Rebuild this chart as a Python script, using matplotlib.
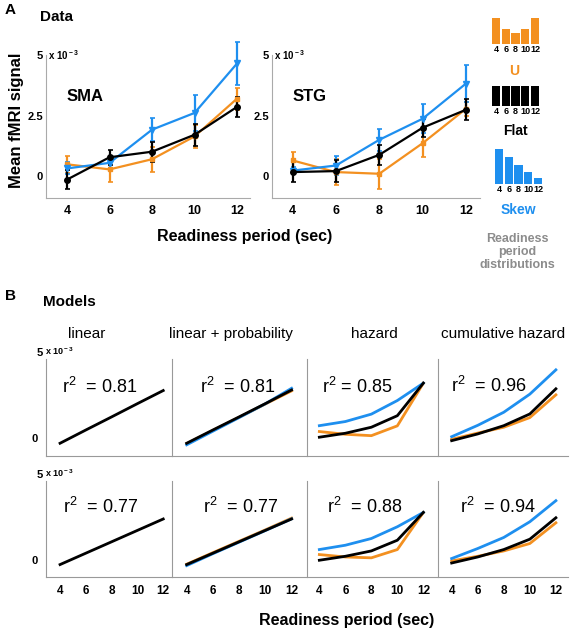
import matplotlib
matplotlib.use('Agg')
import matplotlib.pyplot as plt
import numpy as np

plt.rcParams['font.family'] = ['Liberation Sans', 'DejaVu Sans']
plt.rcParams['mathtext.fontset'] = 'custom'
plt.rcParams['mathtext.rm'] = 'Liberation Sans'
plt.rcParams['mathtext.it'] = 'Liberation Sans:italic'
plt.rcParams['mathtext.bf'] = 'Liberation Sans:bold'

# colours
orange = '#F39020'
blue = '#1E8FEF'
black = '#000000'
gray = '#aaaaaa'

# readiness periods (sec)
periods = [4, 6, 8, 10, 12]

# ---- panel A : data (x 10^-3) ----
sma_u = [0.49, 0.28, 0.70, 1.64, 3.20]
sma_u_err = [0.35, 0.52, 0.52, 0.49, 0.45]
sma_flat = [-0.14, 0.78, 1.01, 1.71, 2.86]
sma_flat_err = [0.38, 0.31, 0.42, 0.45, 0.40]
sma_skew = [0.32, 0.55, 1.92, 2.61, 4.65]
sma_skew_err = [0.25, 0.20, 0.47, 0.73, 0.90]

stg_u = [0.65, 0.17, 0.10, 1.36, 2.78]
stg_u_err = [0.34, 0.52, 0.62, 0.58, 0.28]
stg_flat = [0.17, 0.21, 0.88, 2.00, 2.74]
stg_flat_err = [0.41, 0.45, 0.41, 0.38, 0.43]
stg_skew = [0.23, 0.44, 1.50, 2.37, 3.82]
stg_skew_err = [0.15, 0.38, 0.45, 0.60, 0.76]

# readiness period distributions
dist_u = [1.0, 0.56, 0.41, 0.56, 1.0]
dist_flat = [1.0, 1.0, 1.0, 1.0, 1.0]
dist_skew = [1.0, 0.77, 0.53, 0.33, 0.17]

# ---- panel B : models (x 10^-3) ----
model_names = ['linear', 'linear + probability', 'hazard', 'cumulative hazard']
# row 1 (SMA fits): [u, flat, skew] ; None = not drawn
row1 = [
    [None, [-0.29, 0.48, 1.24, 2.01, 2.77], None],
    [[-0.31, 0.46, 1.22, 1.99, 2.75], [-0.29, 0.48, 1.24, 2.01, 2.80], [-0.38, 0.41, 1.20, 2.00, 2.90]],
    [[0.39, 0.23, 0.15, 0.72, 3.20], [0.06, 0.29, 0.64, 1.31, 3.20], [0.73, 0.97, 1.40, 2.19, 3.20]],
    [[-0.06, 0.30, 0.64, 1.20, 2.52], [-0.14, 0.25, 0.73, 1.41, 2.87], [0.09, 0.75, 1.51, 2.56, 3.97]],
]
# row 2 (STG fits)
row2 = [
    [None, [-0.29, 0.37, 1.03, 1.69, 2.35], None],
    [[-0.27, 0.40, 1.06, 1.72, 2.40], [-0.29, 0.37, 1.03, 1.69, 2.35], [-0.35, 0.34, 1.01, 1.68, 2.36]],
    [[0.29, 0.15, 0.10, 0.58, 2.73], [-0.04, 0.19, 0.50, 1.12, 2.73], [0.58, 0.83, 1.22, 1.90, 2.73]],
    [[-0.08, 0.19, 0.50, 0.93, 2.13], [-0.20, 0.15, 0.58, 1.18, 2.42], [0.06, 0.64, 1.28, 2.19, 3.41]],
]
r2_row1 = ['r$^2$  = 0.81', 'r$^2$  = 0.81', 'r$^2$ = 0.85', 'r$^2$  = 0.96']
r2_row2 = ['r$^2$  = 0.77', 'r$^2$  = 0.77', 'r$^2$  = 0.88', 'r$^2$  = 0.94']

W, H = 572, 630
fig = plt.figure(figsize=(W/100, H/100), dpi=100)


def px_axes(l, t, r, b):
    return fig.add_axes([l/W, 1-b/H, (r-l)/W, (b-t)/H])


def ftext(x, y, s, **kw):
    fig.text(x/W, 1-y/H, s, **kw)


def style(ax, spine_col=gray):
    for s in ['top', 'right']:
        ax.spines[s].set_visible(False)
    for s in ['left', 'bottom']:
        ax.spines[s].set_color(spine_col)
        ax.spines[s].set_linewidth(0.8)
    ax.tick_params(length=0)


# ---------------- panel A ----------------
ftext(5, 10, 'A', fontsize=11, fontweight='bold', va='center')
ftext(40, 17, 'Data', fontsize=11, fontweight='bold', va='center')

def data_panel(ax, u, ue, fl, fle, sk, ske, name, xlim):
    style(ax)
    kw = dict(lw=1.6, capsize=1.8, elinewidth=1.6, capthick=1.2, clip_on=False)
    ax.errorbar(periods, u, yerr=ue, color=orange, marker='s', ms=3.5, **kw)
    ax.errorbar(periods, sk, yerr=ske, color=blue, marker='v', ms=4, **kw)
    ax.errorbar(periods, fl, yerr=fle, color=black, marker='o', ms=4, **kw)
    ax.set_xlim(*xlim)
    ax.set_ylim(-0.9, 5.0)
    ax.set_xticks(periods)
    ax.set_xticklabels([str(p) for p in periods], fontsize=9, fontweight='bold')
    ax.set_yticks([0, 2.5, 5])
    ax.set_yticklabels(['0', '2.5', '5'], fontsize=8, fontweight='bold')
    ax.tick_params(axis='x', pad=5)
    ax.tick_params(axis='y', pad=2)
    ax.text(0.01, 1.0, 'x 10$^{\\bf -3}$', transform=ax.transAxes, fontsize=7,
            fontweight='bold', va='center', ha='left')
    ax.text(0.1, 0.71, name, transform=ax.transAxes, fontsize=12,
            fontweight='bold', va='center')

ax_sma = px_axes(46, 55, 250, 198)
data_panel(ax_sma, sma_u, sma_u_err, sma_flat, sma_flat_err, sma_skew, sma_skew_err,
           'SMA', (3.01, 12.61))
ax_stg = px_axes(272, 55, 480, 198)
data_panel(ax_stg, stg_u, stg_u_err, stg_flat, stg_flat_err, stg_skew, stg_skew_err,
           'STG', (3.05, 12.65))

ftext(17, 120, 'Mean fMRI signal', fontsize=12, fontweight='bold', rotation=90,
      ha='center', va='center')
ftext(245, 237, 'Readiness period (sec)', fontsize=11.5, fontweight='bold',
      ha='center', va='center')

# distributions
def dist_panel(box, vals, col):
    ax = px_axes(*box)
    ax.bar(periods, vals, width=1.65, color=col)
    ax.set_xlim(3.0, 13.0)
    ax.set_ylim(0, 1)
    for s in ax.spines.values():
        s.set_visible(False)
    ax.set_yticks([])
    ax.set_xticks(periods)
    ax.set_xticklabels([str(p) for p in periods], fontsize=6.5, fontweight='bold')
    ax.tick_params(length=0, pad=1)

dist_panel((491, 18, 540, 44), dist_u, orange)
dist_panel((491, 86, 540, 106), dist_flat, black)
dist_panel((494, 149, 543, 184), dist_skew, blue)
ftext(514, 71, 'U', fontsize=10, fontweight='bold', color=orange, ha='center', va='center')
ftext(515, 131, 'Flat', fontsize=10, fontweight='bold', color=black, ha='center', va='center')
ftext(518, 210, 'Skew', fontsize=10, fontweight='bold', color=blue, ha='center', va='center')
ftext(517, 252, 'Readiness\nperiod\ndistributions', fontsize=9, fontweight='bold',
      color='#8c8c8c', ha='center', va='center', linespacing=1.15)

# ---------------- panel B ----------------
ftext(5, 296, 'B', fontsize=11, fontweight='bold', va='center')
ftext(43, 302, 'Models', fontsize=11, fontweight='bold', va='center')

col_edges = [(46, 172), (172, 306), (307, 437), (438, 568)]
col_xlims = [(2.91, 12.68), (2.88, 13.1), (3.05, 13.05), (2.95, 12.93)]
title_x = [87, 231, 374, 503]
rows = [(row1, r2_row1, 359, 456, (-1.03, 4.6), [(62, 387), (200, 387), (322, 387), (451, 386)]),
        (row2, r2_row2, 481, 577, (-1.01, 4.55), [(63, 507), (203, 507), (327, 507), (460, 507)])]

for j, name in enumerate(model_names):
    ftext(title_x[j], 334, name, fontsize=11, ha='center', va='center')

for ri, (rdata, r2s, top, bot, ylim, r2pos) in enumerate(rows):
    for j in range(4):
        l, r = col_edges[j]
        ax = px_axes(l, top, r, bot)
        style(ax, spine_col='#999999')
        u, fl, sk = rdata[j]
        if u is not None:
            ax.plot(periods, u, color=orange, lw=2)
        if sk is not None:
            ax.plot(periods, sk, color=blue, lw=2)
        ax.plot(periods, fl, color=black, lw=2)
        ax.set_xlim(*col_xlims[j])
        ax.set_ylim(*ylim)
        if ri == 1:
            ax.set_xticks(periods)
            ax.set_xticklabels([str(p) for p in periods], fontsize=8.5, fontweight='bold')
            ax.tick_params(axis='x', pad=6)
        else:
            ax.set_xticks([])
        if j == 0:
            ax.set_yticks([0])
            ax.set_yticklabels(['0'], fontsize=8, fontweight='bold')
            ax.tick_params(axis='y', pad=6)
        else:
            ax.set_yticks([])
        x0, y0 = r2pos[j]
        ftext(x0, y0, r2s[j], fontsize=13, ha='left', va='center')
    ftext(40, top - 6, '5', fontsize=8, fontweight='bold', ha='center', va='center')
    ftext(45, top - 8, 'x 10$^{\\bf -3}$', fontsize=6.5, fontweight='bold', ha='left', va='center')

ftext(347, 620, 'Readiness period (sec)', fontsize=11.5, fontweight='bold',
      ha='center', va='center')

fig.savefig('out.png', dpi=100)
